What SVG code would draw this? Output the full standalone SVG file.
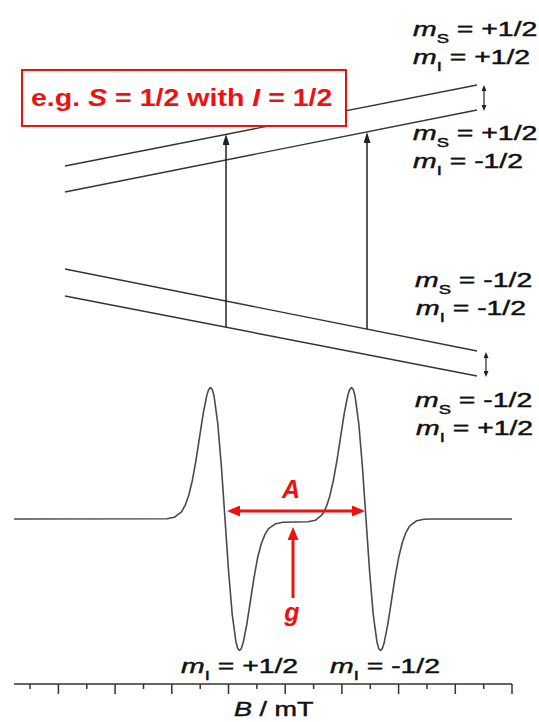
<svg xmlns="http://www.w3.org/2000/svg" width="539" height="722" viewBox="0 0 539 722">
<style>
.lvl{stroke:#333;stroke-width:1.4;fill:none}
.lbl{font-family:"Liberation Sans",Arial,sans-serif;font-size:20px;fill:#111;stroke:#111;stroke-width:0.45}
.sub{font-size:13px}
.it{font-style:italic}
.red{font-family:"Liberation Sans",Arial,sans-serif;font-weight:bold;fill:#f01010}
.tr{stroke:#222;stroke-width:1.5;fill:none}
.dbl{stroke:#222;stroke-width:1.2;fill:none}
.rar{stroke:#f01010;stroke-width:3;fill:none}
.spec{stroke:#4a4a4a;stroke-width:1.6;fill:none;stroke-linejoin:round}
.axis{stroke:#333;stroke-width:1.5;fill:none}
</style>
<defs>
<marker id="ah" viewBox="0 0 11 7" refX="2" refY="3.5" markerWidth="11" markerHeight="7" markerUnits="userSpaceOnUse" orient="auto-start-reverse"><path d="M0,0 L11,3.5 L0,7 z" fill="#222"/></marker>
<marker id="ahs" viewBox="0 0 6 5" refX="1" refY="2.5" markerWidth="6" markerHeight="5" markerUnits="userSpaceOnUse" orient="auto-start-reverse"><path d="M0,0 L6,2.5 L0,5 z" fill="#222"/></marker>
<marker id="ahr" viewBox="0 0 13 11" refX="3" refY="5.5" markerWidth="13" markerHeight="11" markerUnits="userSpaceOnUse" orient="auto-start-reverse"><path d="M0,0 L13,5.5 L0,11 z" fill="#f01010"/></marker>
</defs>
<rect width="539" height="722" fill="#fff"/>

<g id="levels">
<line class="lvl" x1="65" y1="166" x2="477" y2="85"/>
<line class="lvl" x1="65" y1="192" x2="477" y2="110"/>
<line class="lvl" x1="65" y1="269" x2="477" y2="351"/>
<line class="lvl" x1="65" y1="296" x2="477" y2="376"/>
</g>

<g id="example-box">
<rect x="22" y="70" width="324" height="56" fill="#fff" stroke="#f01010" stroke-width="2"/>
<g transform="translate(31,106) scale(1.19,1)"><text class="red" font-size="24">e.g. <tspan class="it">S</tspan> = 1/2 with <tspan class="it">I</tspan> = 1/2</text></g>
</g>

<g id="labels">
<g transform="translate(413,36) scale(1.42,1)"><text class="lbl"><tspan class="it">m</tspan><tspan class="sub" dy="7">S</tspan><tspan dy="-7"> = +1/2</tspan></text></g>
<g transform="translate(413,64) scale(1.42,1)"><text class="lbl"><tspan class="it">m</tspan><tspan class="sub" dy="7">I</tspan><tspan dy="-7"> = +1/2</tspan></text></g>
<g transform="translate(413,140) scale(1.42,1)"><text class="lbl"><tspan class="it">m</tspan><tspan class="sub" dy="7">S</tspan><tspan dy="-7"> = +1/2</tspan></text></g>
<g transform="translate(413,168) scale(1.42,1)"><text class="lbl"><tspan class="it">m</tspan><tspan class="sub" dy="7">I</tspan><tspan dy="-7"> = -1/2</tspan></text></g>
<g transform="translate(415,287) scale(1.42,1)"><text class="lbl"><tspan class="it">m</tspan><tspan class="sub" dy="7">S</tspan><tspan dy="-7"> = -1/2</tspan></text></g>
<g transform="translate(416,315) scale(1.42,1)"><text class="lbl"><tspan class="it">m</tspan><tspan class="sub" dy="7">I</tspan><tspan dy="-7"> = -1/2</tspan></text></g>
<g transform="translate(415,407) scale(1.42,1)"><text class="lbl"><tspan class="it">m</tspan><tspan class="sub" dy="7">S</tspan><tspan dy="-7"> = -1/2</tspan></text></g>
<g transform="translate(416,435) scale(1.42,1)"><text class="lbl"><tspan class="it">m</tspan><tspan class="sub" dy="7">I</tspan><tspan dy="-7"> = +1/2</tspan></text></g>
</g>

<g id="spectrum">
<polyline class="spec" points="14,519 167,518.7 174.25,517.3 181.5,511.8 185.1,505.4 188.75,495.2 192.4,480.2 196,460.3 199.6,436.9 203.25,413.4 206.9,394.9 208.7,389.5 210.5,387.5 212.3,389.6 214.1,396.3 217.75,423.3 221.4,466.5 225,519 228.6,571.5 232.25,614.7 235.9,641.7 237.7,648.4 239.5,650.5 241.3,648.6 243.1,643.1 246.75,624.6 250.4,601.1 254,577.7 257.6,557.8 261.25,543.8 264.9,534.6 268.5,528.7 275.75,523.7 283,522.3 308,521.7 315.25,520.3 322.5,514.3 326.1,507.4 329.75,496.2 333.4,480.2 337,460.3 340.6,436.9 344.25,413.4 347.9,394.9 349.7,389.5 351.5,387.5 353.3,389.6 355.1,396.3 358.75,423.3 362.4,466.5 366,519 369.6,571.5 373.25,614.7 376.9,641.7 378.7,648.4 380.5,650.5 382.3,648.6 384.1,643.1 387.75,624.6 391.4,601.1 395,577.7 398.6,557.8 402.25,542.8 405.9,532.6 409.5,526.2 416.75,520.7 424,519.3 432,519 512,519"/>
</g>

<g id="axis">
<line class="axis" x1="14" y1="684" x2="512" y2="684"/>
<path class="axis" d="M512,684V694 M483.7,684V689 M455.3,684V694 M427,684V689 M398.6,684V694 M370.3,684V689 M341.9,684V694 M313.6,684V689 M285.2,684V694 M256.9,684V689 M228.5,684V694 M200.2,684V689 M171.8,684V694 M143.5,684V689 M115.1,684V694 M86.8,684V689 M58.4,684V694 M30,684V689"/>
<g transform="translate(234,716) scale(1.35,1)"><text class="lbl"><tspan class="it">B</tspan> / mT</text></g>
</g>

<g id="peak-labels">
<g transform="translate(181,673) scale(1.42,1)"><text class="lbl"><tspan class="it">m</tspan><tspan class="sub" dy="7">I</tspan><tspan dy="-7"> = +1/2</tspan></text></g>
<g transform="translate(330,673) scale(1.42,1)"><text class="lbl"><tspan class="it">m</tspan><tspan class="sub" dy="7">I</tspan><tspan dy="-7"> = -1/2</tspan></text></g>
</g>

<g id="connectors">
<line class="tr" x1="226" y1="327" x2="226" y2="143" marker-end="url(#ah)"/>
<line class="tr" x1="367" y1="329" x2="367" y2="141" marker-end="url(#ah)"/>
<line class="dbl" x1="484" y1="90" x2="484" y2="106" marker-start="url(#ahs)" marker-end="url(#ahs)"/>
<line class="dbl" x1="486" y1="357" x2="486" y2="372" marker-start="url(#ahs)" marker-end="url(#ahs)"/>
<line class="rar" x1="237" y1="511" x2="355" y2="511" marker-start="url(#ahr)" marker-end="url(#ahr)"/>
<line class="rar" x1="293" y1="598" x2="293" y2="537" marker-end="url(#ahr)"/>
</g>

<g id="hyperfine-labels">
<text class="red it" font-size="25" x="291" y="498" text-anchor="middle">A</text>
<text class="red it" font-size="25" x="292" y="621" text-anchor="middle">g</text>
</g>
</svg>
